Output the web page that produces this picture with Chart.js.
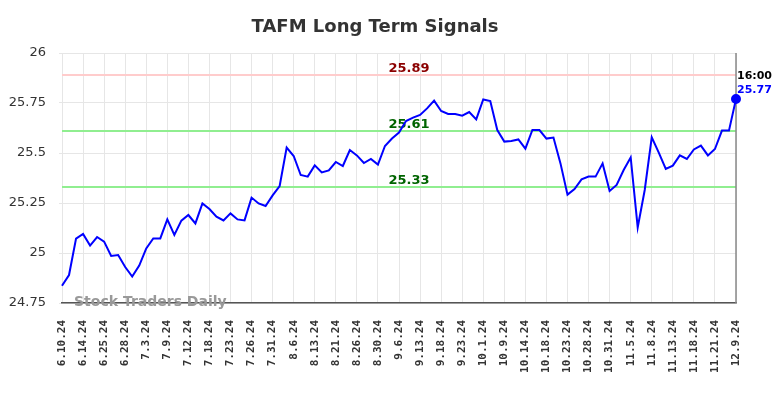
<!DOCTYPE html>
<html>
<head>
<meta charset="utf-8">
<script src="https://cdn.jsdelivr.net/npm/chart.js@4.4.1/dist/chart.umd.min.js"></script>
<style>
  html, body { margin: 0; padding: 0; background: #fff; }
  #wrap { width: 784px; height: 398px; position: relative; }
</style>
</head>
<body>
<div id="wrap"><canvas id="signalChart" width="784" height="398"></canvas></div>
<script>
const chartTitle = 'TAFM Long Term Signals';
const tickLabels = ['6.10.24', '6.14.24', '6.25.24', '6.28.24', '7.3.24', '7.9.24', '7.12.24', '7.18.24',
    '7.23.24', '7.26.24', '7.31.24', '8.6.24', '8.13.24', '8.21.24', '8.26.24', '8.30.24', '9.6.24',
    '9.13.24', '9.18.24', '9.23.24', '10.1.24', '10.9.24', '10.14.24', '10.18.24', '10.23.24',
    '10.28.24', '10.31.24', '11.5.24', '11.8.24', '11.13.24', '11.18.24', '11.21.24', '12.9.24'];
const pointsPerTick = 3;
const closePrices = [
    24.836, 24.89, 25.072, 25.095, 25.037, 25.08, 25.057, 24.985, 24.99, 24.93,
    24.882, 24.937, 25.023, 25.073, 25.073, 25.168, 25.09, 25.162, 25.19, 25.148,
    25.248, 25.22, 25.182, 25.163, 25.198, 25.168, 25.163, 25.277, 25.248, 25.235,
    25.288, 25.335, 25.527, 25.485, 25.39, 25.382, 25.438, 25.403, 25.413, 25.455,
    25.435, 25.515, 25.488, 25.45, 25.47, 25.442, 25.535, 25.572, 25.602, 25.66,
    25.677, 25.69, 25.723, 25.762, 25.71, 25.695, 25.695, 25.687, 25.705, 25.668,
    25.768, 25.76, 25.615, 25.557, 25.56, 25.568, 25.522, 25.615, 25.615, 25.572,
    25.577, 25.448, 25.292, 25.32, 25.368, 25.382, 25.382, 25.448, 25.31, 25.34,
    25.415, 25.478, 25.128, 25.315, 25.578, 25.502, 25.42, 25.437, 25.488, 25.47,
    25.518, 25.537, 25.488, 25.52, 25.612, 25.612, 25.77];
const resistance = 25.89;
const supports = [25.61, 25.33];
const lastTime = '16:00';
const yTicks = [24.75, 25, 25.25, 25.5, 25.75, 26];

const labels = closePrices.map((v, i) => (i % pointsPerTick === 0 ? tickLabels[i / pointsPerTick] : ''));
const lastIdx = closePrices.length - 1;

// signal lines, labels, watermark and the last-price note
const signalsPlugin = {
    id: 'signals',
    beforeDatasetsDraw(chart) {
        const { ctx, chartArea, scales } = chart;
        const y = scales.y;
        const midX = (chartArea.left + chartArea.right) / 2 + 10;
        ctx.save();
        ctx.lineWidth = 2;
        const drawLevel = (val, lineColor, textColor) => {
            const py = y.getPixelForValue(val);
            ctx.strokeStyle = lineColor;
            ctx.beginPath();
            ctx.moveTo(chartArea.left, py);
            ctx.lineTo(chartArea.right, py);
            ctx.stroke();
            ctx.fillStyle = textColor;
            ctx.font = 'bold 13px "DejaVu Sans"';
            ctx.textAlign = 'center';
            ctx.textBaseline = 'alphabetic';
            ctx.fillText(val.toFixed(2), midX, py - 3);
        };
        drawLevel(resistance, '#ffcccc', '#8b0000');
        supports.forEach(s => drawLevel(s, '#90ee90', '#006400'));

        // right edge line
        ctx.strokeStyle = '#888';
        ctx.lineWidth = 1.5;
        ctx.beginPath();
        ctx.moveTo(chartArea.right, chartArea.top);
        ctx.lineTo(chartArea.right, chartArea.bottom);
        ctx.stroke();

        ctx.fillStyle = '#999';
        ctx.font = 'bold 14px "DejaVu Sans"';
        ctx.textAlign = 'left';
        ctx.textBaseline = 'middle';
        ctx.fillText('Stock Traders Daily', chartArea.left + 12, chartArea.bottom - 1);
        ctx.restore();
    },
    afterDraw(chart) {
        const { ctx, chartArea } = chart;
        ctx.save();
        ctx.fillStyle = '#333';
        ctx.font = 'bold 18px "DejaVu Sans"';
        ctx.textAlign = 'center';
        ctx.textBaseline = 'alphabetic';
        ctx.fillText(chartTitle, 375, 32);

        ctx.textAlign = 'left';
        ctx.font = 'bold 11px "DejaVu Sans"';
        ctx.fillStyle = '#000';
        ctx.fillText(lastTime, chartArea.right + 1, 79);
        ctx.fillStyle = '#0000ff';
        ctx.fillText(closePrices[lastIdx].toFixed(2), chartArea.right + 1, 93);
        ctx.restore();
    }
};

new Chart(document.getElementById('signalChart').getContext('2d'), {
    type: 'line',
    data: {
        labels: labels,
        datasets: [{
            data: closePrices,
            borderColor: '#0000ff',
            backgroundColor: '#0000ff',
            borderWidth: 2,
            tension: 0,
            pointRadius: ctx => (ctx.dataIndex === lastIdx ? 4 : 0),
            pointHoverRadius: 0
        }]
    },
    options: {
        responsive: false,
        animation: false,
        layout: { padding: { top: 53, right: 48, left: 0, bottom: 0 } },
        plugins: { legend: { display: false }, tooltip: { enabled: false }, title: { display: false } },
        scales: {
            x: {
                type: 'category',
                offset: false,
                afterFit: s => { s.height = 95; },
                border: { color: '#555', width: 1.5 },
                grid: {
                    color: c => (c.index % pointsPerTick === 0 ? '#e6e6e6' : 'rgba(0,0,0,0)'),
                    drawTicks: false
                },
                ticks: {
                    autoSkip: false,
                    minRotation: 90,
                    maxRotation: 90,
                    padding: 17,
                    color: '#333',
                    font: { family: '"DejaVu Sans Mono"', weight: 'bold', size: 11 }
                }
            },
            y: {
                min: yTicks[0],
                max: yTicks[yTicks.length - 1],
                afterFit: s => { s.width = 62; },
                afterBuildTicks: s => { s.ticks = yTicks.map(v => ({ value: v })); },
                border: { display: false },
                grid: { color: '#e6e6e6', tickLength: 3 },
                ticks: {
                    padding: 13,
                    color: '#333',
                    font: { family: '"DejaVu Sans"', size: 13 },
                    callback: v => String(+v.toFixed(2))
                }
            }
        }
    },
    plugins: [signalsPlugin]
});
</script>
</body>
</html>
